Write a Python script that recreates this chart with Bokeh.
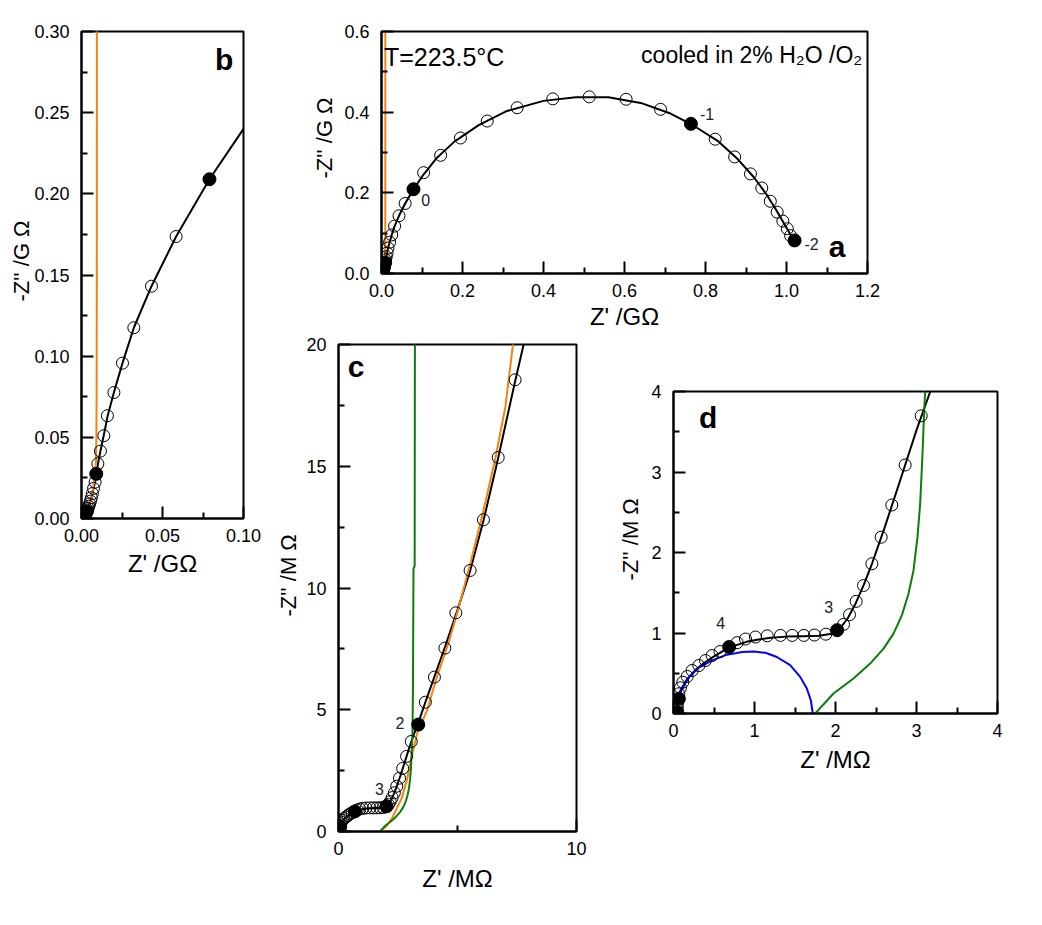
import math
from bokeh.plotting import figure
from bokeh.models import Range1d, FixedTicker, NumeralTickFormatter, Label, Title, Spacer
from bokeh.layouts import row, column
from bokeh.embed import file_html
from bokeh.resources import INLINE

FONT = "Liberation Sans"

# ---------------- data (impedance, in MOhm) ----------------
# measured points (open circles), high -> low frequency
meas_re = [0.046, 0.046, 0.050, 0.066, 0.086, 0.115, 0.169, 0.230, 0.313, 0.395, 0.477, 0.575,
           0.786, 0.889, 1.012, 1.157, 1.321, 1.465, 1.609, 1.740, 1.880,
           2.099, 2.173, 2.255, 2.346, 2.449, 2.564, 2.695, 2.860, 3.058,
           3.65, 4.03, 4.47, 4.93, 5.53, 6.09, 6.71, 7.42, 8.40,
           10.1, 11.7, 13.8, 16.0, 20.0, 25.3, 32.3, 43.2, 58.4,
           104, 146, 195, 261, 335, 423, 513, 604, 689,
           824, 872, 911, 939, 960, 977, 991, 1002, 1010]
meas_im = [0.060, 0.100, 0.140, 0.245, 0.319, 0.389, 0.460, 0.534, 0.596, 0.658, 0.720, 0.770,
           0.880, 0.925, 0.950, 0.965, 0.970, 0.970, 0.970, 0.975, 0.985,
           1.107, 1.227, 1.393, 1.590, 1.860, 2.190, 2.590, 3.087, 3.698,
           5.31, 6.34, 7.53, 8.98, 10.72, 12.80, 15.36, 18.55, 22.4,
           33.7, 41.5, 51.0, 63.3, 77.6, 95.7, 117.5, 143.1, 173.7,
           250, 293, 336, 378, 411, 433, 438, 432, 407,
           333, 289, 247, 212, 179, 152, 130, 111, 94]

# decade markers (filled circles)
dec_re = [0.046, 0.066, 0.687, 2.02, 3.35, 9.1, 79.0, 764, 1020]
dec_im = [0.016, 0.183, 0.826, 1.035, 4.39, 27.5, 209.0, 371, 82]

# fitted curve (black line)
fit_re = [0.03, 0.045, 0.06, 0.09, 0.14, 0.20, 0.28, 0.38, 0.50, 0.62, 0.75, 0.90, 1.05, 1.20,
          1.40, 1.60, 1.80, 1.95, 2.05, 2.15, 2.25, 2.35, 2.45, 2.60, 2.80, 3.00, 3.17, 3.35,
          3.70, 4.10, 4.50, 5.00, 5.50, 6.10, 6.70, 7.40, 8.30, 9.10, 10.2, 11.8, 13.8, 16.2,
          20.0, 25.3, 32.3, 43.2, 58.4, 79, 100, 135, 180, 240, 310, 400, 480, 560, 640, 710,
          770, 830, 880, 920, 950, 975, 995, 1010, 1020]
fit_im = [0.00, 0.09, 0.17, 0.27, 0.37, 0.46, 0.55, 0.63, 0.71, 0.78, 0.84, 0.89, 0.92, 0.94,
          0.955, 0.96, 0.965, 0.99, 1.05, 1.18, 1.37, 1.60, 1.86, 2.29, 2.90, 3.52, 4.00, 4.45,
          5.45, 6.55, 7.65, 9.10, 10.6, 12.8, 15.3, 18.4, 22.2, 27.3, 34.0, 42.0, 51.5, 63.5,
          77.6, 95.7, 117.5, 143.1, 173.7, 209, 240, 285, 327, 368, 403, 428, 437, 437, 423, 398,
          367, 329, 283, 238, 197, 157, 122, 96, 80]

# orange model curve
orange_re = [1.72, 2.00, 2.25, 2.45, 2.65, 2.87, 3.05, 3.30, 3.72, 4.13, 4.61, 5.02, 5.57, 6.19,
             6.60, 7.01, 7.33, 7.90, 8.50, 8.90, 9.20, 9.35, 9.45, 9.50, 9.55]
orange_im = [0.00, 0.20, 0.55, 0.95, 1.35, 2.09, 2.98, 4.01, 4.97, 6.34, 7.71, 9.08, 11.13, 13.59,
             15.37, 17.43, 20.0, 23.5, 28.0, 35.0, 50.0, 80.0, 150.0, 300.0, 650.0]

# green model curve
green_re = [1.75, 1.975, 2.222, 2.428, 2.593, 2.716, 2.819, 2.901, 2.963, 3.012, 3.045, 3.074,
            3.095, 3.107, 3.13, 3.15, 3.20, 3.21]
green_im = [0.0, 0.248, 0.434, 0.62, 0.806, 0.992, 1.219, 1.488, 1.777, 2.19, 2.603, 3.223,
            3.76, 4.0, 6.0, 10.8, 10.9, 20.0]

# blue arc
blue_re = [0.02, 0.03, 0.05, 0.086, 0.169, 0.313, 0.477, 0.642, 0.848, 0.99, 1.136, 1.276,
           1.44, 1.564, 1.646, 1.695, 1.72]
blue_im = [0.0, 0.08, 0.17, 0.29, 0.43, 0.57, 0.66, 0.725, 0.763, 0.77, 0.754, 0.702,
           0.60, 0.455, 0.31, 0.165, 0.0]

ORANGE = "#F5820F"
GREEN = "#0A7D0A"
BLUE = "#0000FF"


def g(vals):
    return [v / 1000.0 for v in vals]


def make_fig(w, h, xr, yr, bl, br, bt, bb):
    p = figure(width=w, height=h, x_range=Range1d(*xr), y_range=Range1d(*yr),
               output_backend="svg", toolbar_location=None, title=None,
               min_border_left=bl, min_border_right=br, min_border_top=bt, min_border_bottom=bb)
    p.grid.visible = False
    p.outline_line_color = "black"
    p.outline_line_width = 2
    p.outline_line_alpha = 1
    p.background_fill_color = "white"
    p.border_fill_color = "white"
    return p


def style_axes(p, xt, xm, yt, ym, xfmt, yfmt, xlabel, lab_standoff):
    p.xaxis.ticker = FixedTicker(ticks=xt, minor_ticks=xm)
    p.yaxis.ticker = FixedTicker(ticks=yt, minor_ticks=ym)
    p.xaxis.formatter = NumeralTickFormatter(format=xfmt)
    p.yaxis.formatter = NumeralTickFormatter(format=yfmt)
    for ax in (p.xaxis[0], p.yaxis[0]):
        ax.major_tick_in = 12
        ax.major_tick_out = 0
        ax.minor_tick_in = 6
        ax.minor_tick_out = 0
        ax.major_tick_line_width = 2
        ax.minor_tick_line_width = 2
        ax.axis_line_width = 2
        ax.major_label_text_font = FONT
        ax.major_label_text_font_size = "18px"
        ax.major_label_text_color = "black"
    p.xaxis.major_label_standoff = 10
    p.yaxis.major_label_standoff = 12
    p.xaxis.axis_label = xlabel
    p.xaxis.axis_label_text_font = FONT
    p.xaxis.axis_label_text_font_size = "24px"
    p.xaxis.axis_label_text_font_style = "normal"
    p.xaxis.axis_label_text_color = "black"
    p.xaxis.axis_label_standoff = lab_standoff


def ytitle(p, text, offset, standoff):
    # vertical axis title, starting 'offset' px above the bottom of the frame
    p.add_layout(Title(text=text, align="left", offset=offset, standoff=standoff,
                       text_font=FONT, text_font_size="22px", text_font_style="normal",
                       text_color="black"), "left")


def txt(p, x, y, text, size="16px", bold=False, align="center", baseline="middle", color="#222222"):
    p.add_layout(Label(x=x, y=y, text=text, text_align=align, text_baseline=baseline,
                       text_font=FONT, text_font_size=size,
                       text_font_style="bold" if bold else "normal", text_color=color))


def data_marks(p, conv):
    p.scatter(conv(meas_re), conv(meas_im), marker="circle", size=12, fill_color=None,
              line_color="black", line_width=1)
    p.scatter(conv(dec_re), conv(dec_im), marker="circle", size=13, fill_color="black",
              line_color="black", line_width=1)


ident = lambda v: list(v)

# ---------------- panel b ----------------
pb = make_fig(270, 593, (0, 0.10), (0, 0.30), 81, 27, 31, 75)
style_axes(pb, [0, 0.05, 0.10], [0.025, 0.075],
           [0, 0.05, 0.10, 0.15, 0.20, 0.25, 0.30], [0.025, 0.075, 0.125, 0.175, 0.225, 0.275],
           "0.00", "0.00", "Z' /GΩ", 5)
pb.line(g(fit_re), g(fit_im), line_color="black", line_width=2)
pb.line(g(orange_re), g(orange_im), line_color=ORANGE, line_width=2)
data_marks(pb, g)
ytitle(pb, "-Z'' /G Ω", 217, -5)
txt(pb, 0.088, 0.283, "b", size="30px", bold=True, color="black")

# ---------------- panel a ----------------
pa = make_fig(627, 335, (0, 1.2), (0, 0.6), 111, 30, 31, 62)
style_axes(pa, [0, 0.2, 0.4, 0.6, 0.8, 1.0, 1.2], [0.1, 0.3, 0.5, 0.7, 0.9, 1.1],
           [0, 0.2, 0.4, 0.6], [0.1, 0.3, 0.5], "0.0", "0.0", "Z' /GΩ", 3)
pa.line(g(fit_re), g(fit_im), line_color="black", line_width=2)
pa.line(g(orange_re), g(orange_im), line_color=ORANGE, line_width=2)
data_marks(pa, g)
ytitle(pa, "-Z'' /G Ω", 95, 9)
txt(pa, 0.006, 0.537, "T=223.5°C", size="25px", align="left", baseline="alphabetic", color="black")
txt(pa, 1.187, 0.541, "cooled in 2% H₂O /O₂", size="23px", align="right", baseline="alphabetic",
    color="black")
txt(pa, 0.109, 0.183, "0")
txt(pa, 0.804, 0.395, "-1")
txt(pa, 1.062, 0.074, "-2")
txt(pa, 1.125, 0.066, "a", size="30px", bold=True, color="black")

# ---------------- panel c ----------------
pc = make_fig(330, 571, (0, 10), (0, 20), 63, 24, 9, 75)
style_axes(pc, [0, 10], [5], [0, 5, 10, 15, 20], [2.5, 7.5, 12.5, 17.5], "0", "0", "Z' /MΩ", 7)
pc.line(fit_re, fit_im, line_color="black", line_width=2)
pc.line(orange_re, orange_im, line_color=ORANGE, line_width=2)
pc.line(green_re, green_im, line_color=GREEN, line_width=2)
data_marks(pc, ident)
ytitle(pc, "-Z'' /M Ω", 215, 6)
txt(pc, 2.58, 4.46, "2")
txt(pc, 1.72, 1.75, "3")
txt(pc, 0.74, 19.08, "c", size="30px", bold=True, color="black")

# ---------------- panel d ----------------
pd_ = make_fig(417, 411, (0, 4), (0, 4), 73, 20, 9, 80)
style_axes(pd_, [0, 1, 2, 3, 4], [0.5, 1.5, 2.5, 3.5], [0, 1, 2, 3, 4], [0.5, 1.5, 2.5, 3.5],
           "0", "0", "Z' /MΩ", 6)
pd_.line(fit_re, fit_im, line_color="black", line_width=2)
pd_.line(green_re, green_im, line_color=GREEN, line_width=2)
pd_.line(blue_re, blue_im, line_color=BLUE, line_width=2)
data_marks(pd_, ident)
ytitle(pd_, "-Z'' /M Ω", 133, 12)
txt(pd_, 0.584, 1.124, "4")
txt(pd_, 1.917, 1.323, "3")
txt(pd_, 0.428, 3.68, "d", size="30px", bold=True, color="black")

layout = row(pb, column(pa, row(pc, column(Spacer(width=417, height=47), pd_))))

open("out.html", "w").write(file_html(layout, INLINE))
